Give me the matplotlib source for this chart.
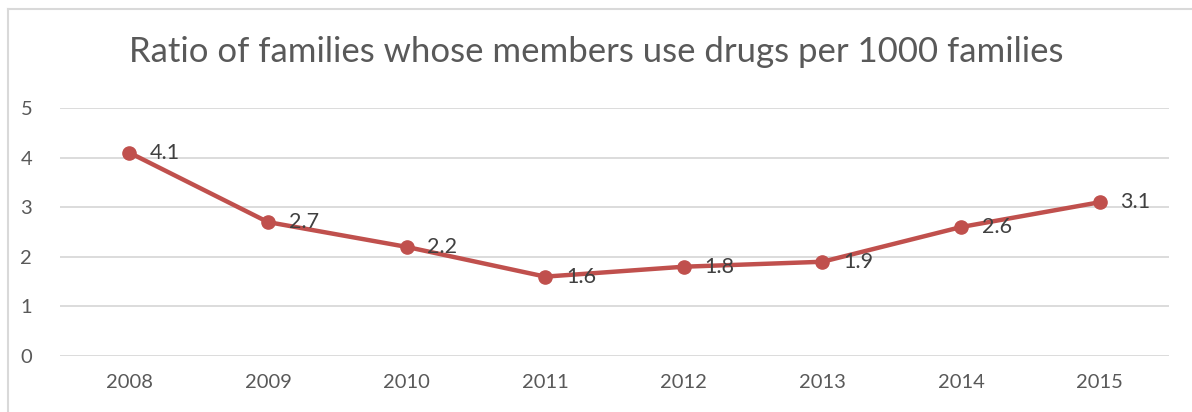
import matplotlib.pyplot as plt
from matplotlib.lines import Line2D

years = ['2008', '2009', '2010', '2011', '2012', '2013', '2014', '2015']
ratio = [4.1, 2.7, 2.2, 1.6, 1.8, 1.9, 2.6, 3.1]

plt.rcParams['font.family'] = ['Lato', 'DejaVu Sans']

W, H = 1192, 412
fig = plt.figure(figsize=(W / 100, H / 100), dpi=100)

# chart border (only top and left edges visible in the crop)
fig.add_artist(Line2D([8 / W, 8 / W], [0, 1 - 9 / H], color='#D9D9D9', lw=1.5))
fig.add_artist(Line2D([8 / W, 1], [1 - 9 / H, 1 - 9 / H], color='#D9D9D9', lw=1.5))

ax = fig.add_axes([60 / W, 1 - 356 / H, (1169 - 60) / W, (356 - 108) / H])

x = list(range(len(years)))
ax.plot(x, ratio, color='#C0504D', lw=3.2, marker='o', ms=9.5,
        solid_capstyle='round', zorder=3)

for xi, v in zip(x, ratio):
    ax.annotate('{:.1f}'.format(v), (xi, v), xytext=(15, 0),
                textcoords='offset points', ha='left', va='center',
                fontsize=15.5, color='#404040')

ax.set_xlim(-0.5, len(years) - 0.5)
ax.set_ylim(0, 5)
ax.set_yticks(range(6))
ax.set_xticks(x)
ax.set_xticklabels(years)
ax.grid(axis='y', color='#D9D9D9', lw=1.3)
ax.set_axisbelow(True)
for s in ax.spines.values():
    s.set_visible(False)
ax.tick_params(length=0, labelsize=14.5, labelcolor='#595959')
ax.tick_params(axis='x', pad=13)
ax.tick_params(axis='y', pad=20)

fig.text(0.5, 1 - 52 / H, 'Ratio of families whose members use drugs per 1000 families',
         ha='center', va='center', fontsize=25, color='#595959')

fig.savefig('out.png', dpi=100)
